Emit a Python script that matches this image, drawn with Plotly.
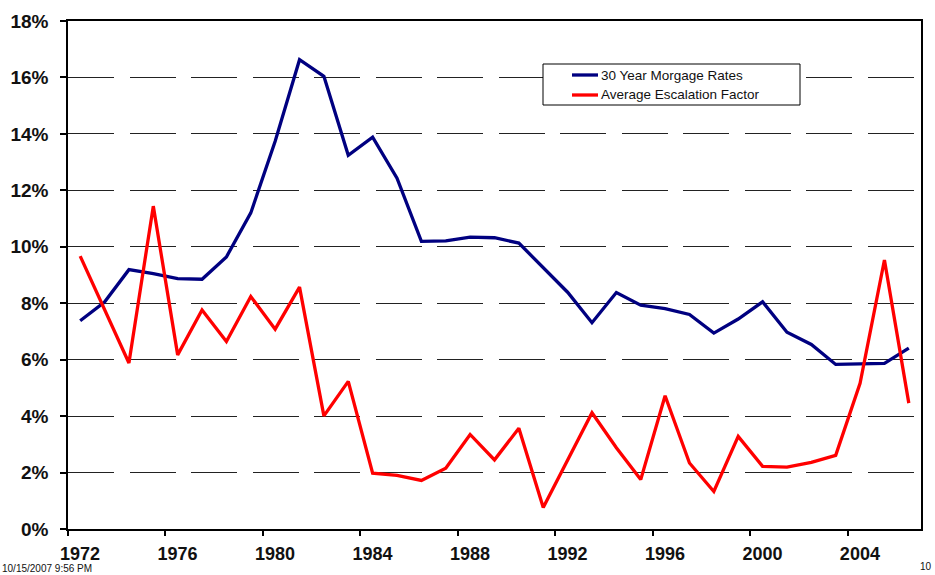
import plotly.graph_objects as go

years = list(range(1972, 2007))
mortgage_rates = [7.38, 8.04, 9.19, 9.05, 8.87, 8.85, 9.64, 11.20, 13.74, 16.63,
                  16.04, 13.24, 13.88, 12.43, 10.19, 10.21, 10.34, 10.32, 10.13, 9.25,
                  8.39, 7.31, 8.38, 7.93, 7.81, 7.60, 6.94, 7.44, 8.05, 6.97,
                  6.54, 5.83, 5.84, 5.87, 6.41]
escalation = [9.67, 7.78, 5.88, 11.44, 6.17, 7.76, 6.64, 8.24, 7.08, 8.57,
              4.01, 5.23, 1.98, 1.90, 1.72, 2.15, 3.35, 2.45, 3.57, 0.76,
              2.46, 4.12, 2.88, 1.75, 4.72, 2.34, 1.33, 3.28, 2.22, 2.19,
              2.36, 2.61, 5.16, 9.53, 4.46]
series_names = ["30 Year Morgage Rates", "Average Escalation Factor"]
series_colors = ["#000080", "#FF0000"]
label_years = list(range(1972, 2007, 4))
y_ticks = [0, 2, 4, 6, 8, 10, 12, 14, 16, 18]

FONT = "Arial, Liberation Sans, sans-serif"
W, H = 935, 575
ML, MR, MT, MB = 68, 14, 21, 46
PW, PH = W - ML - MR, H - MT - MB


def px(x):
    return (x - ML) / PW


def py(y):
    return (H - MB - y) / PH


fig = go.Figure()
for vals, name, col in zip([mortgage_rates, escalation], series_names, series_colors):
    fig.add_trace(go.Scatter(x=years, y=[v / 100 for v in vals], mode="lines",
                             name=name, showlegend=False, hoverinfo="skip",
                             line=dict(color=col, width=3.3)))

# legend drawn as a box with sample lines and labels
shapes = [dict(type="rect", xref="paper", yref="paper",
               x0=px(543), x1=px(800), y0=py(105), y1=py(64),
               line=dict(color="black", width=1), fillcolor="white", layer="above")]
annotations = []
for i, (name, col) in enumerate(zip(series_names, series_colors)):
    yy = 75 + 20 * i
    shapes.append(dict(type="line", xref="paper", yref="paper",
                       x0=px(572), x1=px(598), y0=py(yy), y1=py(yy),
                       line=dict(color=col, width=3.3), layer="above"))
    annotations.append(dict(text=name, xref="paper", yref="paper",
                            x=px(599), y=py(yy), xanchor="left", yanchor="middle",
                            showarrow=False,
                            font=dict(family=FONT, size=13.5, color="#111")))

annotations += [
    dict(text="10/15/2007 9:56 PM", xref="paper", yref="paper",
         x=px(1), y=py(575), xanchor="left", yanchor="bottom",
         showarrow=False, borderpad=0,
         font=dict(family=FONT, size=10, color="#111")),
    dict(text="10", xref="paper", yref="paper",
         x=px(934), y=py(566), xanchor="right", yanchor="middle",
         showarrow=False, font=dict(family=FONT, size=10, color="#111")),
]

fig.update_layout(
    width=W, height=H,
    margin=dict(l=ML, r=MR, t=MT, b=MB, autoexpand=False),
    paper_bgcolor="white", plot_bgcolor="white",
    font=dict(family=FONT, color="black"),
    showlegend=False,
    xaxis=dict(range=[1971.5, 2006.5], automargin=False,
               tickmode="array",
               tickvals=[y - 0.5 for y in label_years],
               ticktext=[str(y) for y in label_years],
               ticklabelshift=12,
               ticklabelstandoff=3,
               ticks="outside", ticklen=5, tickwidth=1.5, tickcolor="black",
               showline=True, linecolor="black", linewidth=1.5, mirror=True,
               showgrid=False, zeroline=False,
               tickfont=dict(family=FONT, size=18, weight="bold", color="#111")),
    yaxis=dict(range=[0, 0.18], automargin=False,
               tickmode="array",
               tickvals=[v / 100 for v in y_ticks],
               ticktext=[f"{v}%" for v in y_ticks],
               ticks="outside", ticklen=6, tickwidth=1.5, tickcolor="black",
               ticklabelstandoff=8,
               showline=True, linecolor="black", linewidth=1.5, mirror=True,
               showgrid=True, gridcolor="#222", gridwidth=1, griddash="46px,15.5px",
               zeroline=False,
               tickfont=dict(family=FONT, size=19, weight="bold", color="#111")),
    shapes=shapes,
    annotations=annotations,
)

fig.write_html("out.html", config={"displayModeBar": False},
               post_script="document.body.style.margin='0';")
